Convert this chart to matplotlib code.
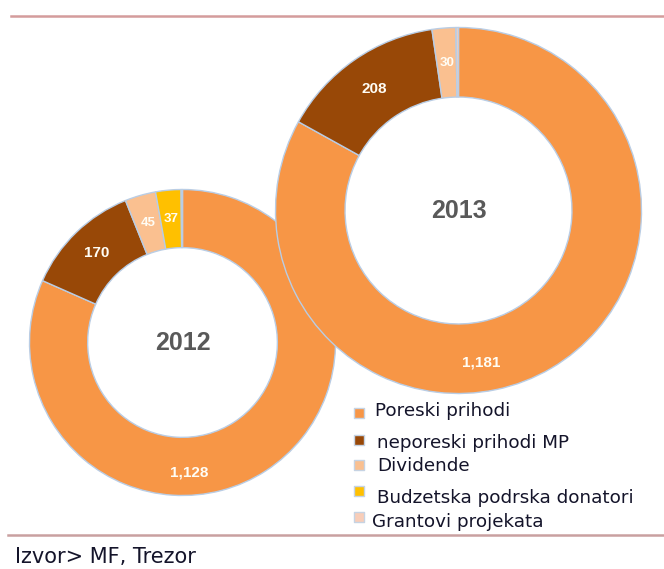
import matplotlib.pyplot as plt
import numpy as np

# podaci
kategorije = ['Poreski prihodi', 'neporeski prihodi MP', 'Dividende',
              'Budzetska podrska donatori', 'Grantovi projekata']
boje = ['#F79646', '#984807', '#FAC090', '#FFC000', '#F8CDB8']
vrijednosti_2012 = [1128, 170, 45, 37, 2]
vrijednosti_2013 = [1181, 208, 30, 0, 3]
oznake_2012 = ['1,128', '170', '45', '37', '']
oznake_2013 = ['1,181', '208', '30', '', '']

W, H = 664, 569
fig = plt.figure(figsize=(W / 100, H / 100), dpi=100)
ax = fig.add_axes([0, 0, 1, 1])


def krug(vals, oznake, godina, cx, cy, r, big_angle, big_r, zorder):
    # krug (donut) za jednu godinu
    wedges, _ = ax.pie(vals, colors=boje, startangle=90, counterclock=False,
                       radius=r, center=(cx, cy), frame=True,
                       wedgeprops=dict(width=r * 0.38, edgecolor='#B9CDE5', linewidth=1))
    for w in wedges:
        w.set_zorder(zorder)
    for i, (w, lab) in enumerate(zip(wedges, oznake)):
        if not lab:
            continue
        if i == 0:
            # Excel stavlja oznaku najveceg dijela skoro na dno
            ang = np.deg2rad(90 - big_angle)
            rr = r * big_r
            fs = 11
        else:
            ang = np.deg2rad((w.theta1 + w.theta2) / 2)
            rr = r * 0.81
            fs = 11 if vals[i] > 100 else 9.5
        ax.text(cx + rr * np.cos(ang), cy + rr * np.sin(ang), lab, color='#FFFDF5',
                fontsize=fs, fontweight='bold', ha='center', va='center',
                family='Liberation Sans', zorder=zorder + 1)
    ax.text(cx, cy, godina, color='#595959', fontsize=18, fontweight='bold',
            ha='center', va='center', family='Liberation Sans', zorder=zorder + 1)


krug(vrijednosti_2012, oznake_2012, '2012', 182.5, H - 342.5, 153, 177, 0.85, 2)
krug(vrijednosti_2013, oznake_2013, '2013', 458.5, H - 210.5, 183, 171.5, 0.84, 4)
ax.set_xlim(0, W)
ax.set_ylim(0, H)
ax.set_aspect('equal')
ax.axis('off')

# linije gore i dole
ax.plot([11, W], [H - 15.5, H - 15.5], color='#D49C9C', lw=1.8, zorder=1)
ax.plot([8, W], [H - 535, H - 535], color='#C9A0A0', lw=1.8, zorder=1)

# legenda
marker_y = [413, 440, 465, 491, 517]
tekst_y = [411, 443, 466, 498, 522]
tekst_x = [375, 377, 377, 377, 372]
for k, c, my, ty, tx in zip(kategorije, boje, marker_y, tekst_y, tekst_x):
    ax.scatter([359], [H - my], marker='s', s=42, color=c, edgecolor='#C6D3E3',
               linewidths=1, zorder=6)
    ax.text(tx, H - ty, k, fontsize=13.2, color='#14142A', ha='left', va='center',
            family='DejaVu Sans', zorder=6)

ax.text(15, H - 557, 'Izvor> MF, Trezor', fontsize=15, color='#14142A',
        ha='left', va='center', family='DejaVu Sans')

fig.savefig('out.png', dpi=100)
